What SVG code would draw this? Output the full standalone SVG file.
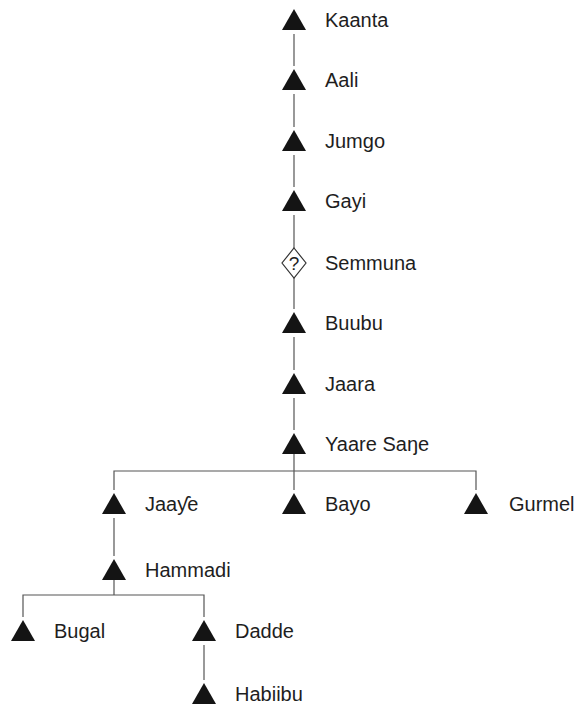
<svg xmlns="http://www.w3.org/2000/svg" width="583" height="708" viewBox="0 0 583 708">
<style>
.t{font-family:"Liberation Sans",Arial,sans-serif;font-size:20px;fill:#1e1e1e;}
.tri{fill:#141414;}
.ln{stroke:#555;stroke-width:1.2;fill:none;}
.dia{fill:#fff;stroke:#333;stroke-width:1.2;}
.q{font-family:"Liberation Sans",Arial,sans-serif;font-size:19px;fill:#222;text-anchor:middle;}
</style>
<defs>
<polygon id="tr" class="tri" points="-12,10 0,-11 12,10"/>
</defs>
<rect width="583" height="708" fill="#fff"/>
<g id="connectors">
<path class="ln" d="M294,34V66M294,94V127M294,155V187M294,215V248M294,278V309M294,337V370M294,398V430M294,454V490"/>
<path class="ln" d="M114,490V471H476V490"/>
<path class="ln" d="M114,518V556M114,580V595"/>
<path class="ln" d="M23,617V595H204V617"/>
<path class="ln" d="M204,645V680"/>
</g>
<g id="kaanta"><use href="#tr" x="294" y="20"/><text class="t" x="325" y="27">Kaanta</text></g>
<g id="aali"><use href="#tr" x="294" y="80"/><text class="t" x="325" y="87">Aali</text></g>
<g id="jumgo"><use href="#tr" x="294" y="141"/><text class="t" x="325" y="148">Jumgo</text></g>
<g id="gayi"><use href="#tr" x="294" y="201"/><text class="t" x="325" y="208">Gayi</text></g>
<g id="semmuna"><polygon class="dia" points="294,248 306,263 294,278 282,263"/><text class="q" x="294" y="270">?</text><text class="t" x="325" y="270">Semmuna</text></g>
<g id="buubu"><use href="#tr" x="294" y="323"/><text class="t" x="325" y="330">Buubu</text></g>
<g id="jaara"><use href="#tr" x="294" y="384"/><text class="t" x="325" y="391">Jaara</text></g>
<g id="yaare"><use href="#tr" x="294" y="444"/><text class="t" x="325" y="451">Yaare Saŋe</text></g>
<g id="jaaye"><use href="#tr" x="114" y="504"/><text class="t" x="145" y="511">Jaaƴe</text></g>
<g id="bayo"><use href="#tr" x="294" y="504"/><text class="t" x="325" y="511">Bayo</text></g>
<g id="gurmel"><use href="#tr" x="476" y="504"/><text class="t" x="509" y="511">Gurmel</text></g>
<g id="hammadi"><use href="#tr" x="114" y="570"/><text class="t" x="145" y="577">Hammadi</text></g>
<g id="bugal"><use href="#tr" x="23" y="631"/><text class="t" x="54" y="638">Bugal</text></g>
<g id="dadde"><use href="#tr" x="204" y="631"/><text class="t" x="235" y="638">Dadde</text></g>
<g id="habiibu"><use href="#tr" x="204" y="694"/><text class="t" x="235" y="701">Habiibu</text></g>
</svg>
